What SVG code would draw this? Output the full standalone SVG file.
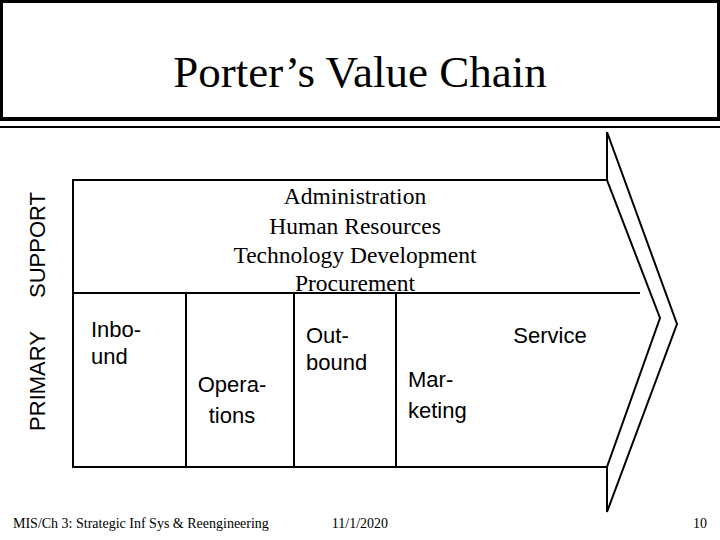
<svg xmlns="http://www.w3.org/2000/svg" width="720" height="540" viewBox="0 0 720 540">
<style>
.ln{fill:none;stroke:#000;stroke-width:2}
.tm{font-family:"Liberation Serif",serif;fill:#000}
.ar{font-family:"Liberation Sans",sans-serif;fill:#000;font-size:22px}
</style>
<rect width="720" height="540" fill="#fff"/>
<g id="title">
<rect x="1.5" y="1.5" width="717" height="117" fill="#fff" stroke="#000" stroke-width="3"/>
<line x1="0" y1="119" x2="720" y2="119" stroke="#000" stroke-width="4"/>
<line x1="0" y1="127" x2="720" y2="127" stroke="#000" stroke-width="2"/>
<text class="tm" x="360" y="87" font-size="45" text-anchor="middle">Porter’s Value Chain</text>
</g>
<g id="side">
<text class="ar" font-size="21" transform="translate(45,245) rotate(-90)" text-anchor="middle">SUPPORT</text>
<text class="ar" font-size="21" transform="translate(45,381) rotate(-90)" text-anchor="middle">PRIMARY</text>
</g>
<g id="chain">
<polyline class="ln" points="73,293 73,180 607,180"/>
<polyline class="ln" points="607,132 677,324 607,512 607,467 660,318 607,180 607,132"/>
</g>
<g id="support">
<line class="ln" x1="73" y1="293" x2="640" y2="293"/>
<g class="tm" font-size="23.5" text-anchor="middle">
<text x="355" y="204">Administration</text>
<text x="355" y="234">Human Resources</text>
<text x="355" y="263">Technology Development</text>
<text x="355" y="291">Procurement</text>
</g>
</g>
<g id="primary">
<polyline class="ln" points="73,293 73,467 607,467"/>
<line class="ln" x1="186" y1="293" x2="186" y2="467"/>
<line class="ln" x1="294" y1="293" x2="294" y2="467"/>
<line class="ln" x1="396" y1="293" x2="396" y2="467"/>
<text class="ar" x="91" y="337">Inbo-</text>
<text class="ar" x="91" y="364">und</text>
<text class="ar" x="232" y="392" text-anchor="middle">Opera-</text>
<text class="ar" x="232" y="423" text-anchor="middle">tions</text>
<text class="ar" x="306" y="343">Out-</text>
<text class="ar" x="306" y="370">bound</text>
<text class="ar" x="408" y="387">Mar-</text>
<text class="ar" x="408" y="418">keting</text>
<text class="ar" x="550" y="343" text-anchor="middle">Service</text>
</g>
<g id="footer" class="tm" font-size="14">
<text x="13" y="528">MIS/Ch 3: Strategic Inf Sys &amp; Reengineering</text>
<text x="360" y="528" text-anchor="middle">11/1/2020</text>
<text x="707" y="528" text-anchor="end">10</text>
</g>
</svg>
